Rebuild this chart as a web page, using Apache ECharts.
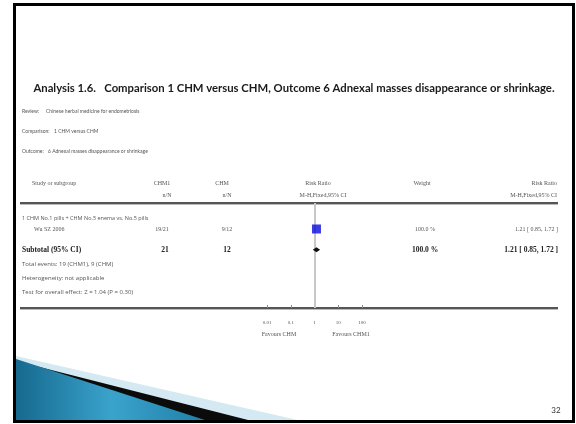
<!DOCTYPE html>
<html><head><meta charset="utf-8">
<style>html,body{margin:0;padding:0;background:#fff}#c{width:576px;height:424px}</style>
<script src="https://cdn.jsdelivr.net/npm/echarts@6/dist/echarts.min.js"></script>
</head><body><div id="c"></div>
<script>
// ---- data ----
const titleText = 'Analysis 1.6.   Comparison 1 CHM versus CHM, Outcome 6 Adnexal masses disappearance or shrinkage.';
const reviewText = 'Chinese herbal medicine for endometriosis';
const comparisonText = '1 CHM versus CHM';
const outcomeText = '6 Adnexal masses disappearance or shrinkage';
const groupName = '1 CHM No.1 pills + CHM No.5 enema vs. No.5 pills';
const studies = ['Wu SZ 2006'];
const events1 = [19];
const total1 = [21];
const events2 = [9];
const total2 = [12];
const ratios = [1.21];
const lower = [0.85];
const upper = [1.72];
const weights = [100.0];
const subtotal = {ratio: 1.21, lower: 0.85, upper: 1.72, total1: 21, total2: 12, weight: 100.0};
const footLines = ['Total events: 19 (CHM1), 9 (CHM)', 'Heterogeneity: not applicable', 'Test for overall effect: Z = 1.04 (P = 0.30)'];
const tickValues = [0.01, 0.1, 1, 10, 100];
const tickLabels = ['0.01', '0.1', '1', '10', '100'];
const favours = ['Favours CHM', 'Favours CHM1'];
const slideNumber = '32';

// rows on the y axis (index)
const studyRows = [1];
const subtotalRow = 3;

const fmt = v => v.toFixed(2);
const ciText = (r, l, u) => fmt(r) + ' [ ' + fmt(l) + ', ' + fmt(u) + ' ]';

const chart = echarts.init(document.getElementById('c'), null, {renderer: 'canvas'});

const serif = '"Liberation Serif", "DejaVu Serif", serif';
const sans = 'Lato, "Open Sans", sans-serif';
const wide = '"Open Sans", Lato, sans-serif';
const small = {fontFamily: serif, fontSize: 6, fill: '#555'};

function txt(x, y, text, extra) {
  return {type: 'text', x: x, y: y, silent: true,
    style: Object.assign({text: text, textVerticalAlign: 'middle'}, small, extra || {})};
}

const graphics = [];
// slide decoration
graphics.push({type: 'polygon', silent: true, z: 1, shape: {points: [[16, 356], [302, 421], [16, 421]]}, style: {fill: '#d5e9f2'}});
graphics.push({type: 'polygon', silent: true, z: 2, shape: {points: [[16, 361], [252, 421], [16, 421]]}, style: {fill: '#0b0b0b'}});
graphics.push({type: 'polygon', silent: true, z: 3, shape: {points: [[16, 359], [208, 421], [16, 421]]},
  style: {fill: new echarts.graphic.LinearGradient(0, 0, 1, 0, [
    {offset: 0, color: '#16698f'}, {offset: 0.5, color: '#3aa3cc'}, {offset: 1, color: '#1f7fa8'}])}});
graphics.push({type: 'rect', silent: true, z: 10, shape: {x: 14.5, y: 4.5, width: 559, height: 417}, style: {fill: 'none', stroke: '#000', lineWidth: 3}});

// title block
graphics.push(txt(294, 88, titleText, {fontFamily: sans, fontSize: 11.3, fontWeight: 'bold', fill: '#1a1a1a', textAlign: 'center'}));
graphics.push(txt(22, 111, 'Review:', {fontFamily: sans, fontSize: 5}));
graphics.push(txt(46, 111, reviewText, {fontFamily: sans, fontSize: 5}));
graphics.push(txt(22, 131, 'Comparison:', {fontFamily: sans, fontSize: 5}));
graphics.push(txt(54, 131, comparisonText, {fontFamily: sans, fontSize: 5}));
graphics.push(txt(22, 151, 'Outcome:', {fontFamily: sans, fontSize: 5}));
graphics.push(txt(48, 151, outcomeText, {fontFamily: sans, fontSize: 5}));

// header
graphics.push(txt(32, 183, 'Study or subgroup'));
graphics.push(txt(162, 183, 'CHM1', {textAlign: 'center'}));
graphics.push(txt(167, 195, 'n/N', {textAlign: 'center'}));
graphics.push(txt(222, 183, 'CHM', {textAlign: 'center'}));
graphics.push(txt(227, 195, 'n/N', {textAlign: 'center'}));
graphics.push(txt(318, 183, 'Risk Ratio', {textAlign: 'center'}));
graphics.push(txt(323, 195, 'M-H,Fixed,95% CI', {textAlign: 'center'}));
graphics.push(txt(422, 183, 'Weight', {textAlign: 'center'}));
graphics.push(txt(557, 183, 'Risk Ratio', {textAlign: 'right'}));
graphics.push(txt(557, 195, 'M-H,Fixed,95% CI', {textAlign: 'right'}));

// rules
[203, 308].forEach(y => {
  graphics.push({type: 'line', silent: true, shape: {x1: 20, y1: y, x2: 558, y2: y}, style: {stroke: '#555', lineWidth: 2}});
  graphics.push({type: 'line', silent: true, shape: {x1: 20, y1: y + 1.5, x2: 558, y2: y + 1.5}, style: {stroke: '#bbb', lineWidth: 1}});
});

// footer texts
graphics.push(txt(22, 264, footLines[0], {fontFamily: wide, fontSize: 6}));
graphics.push(txt(22, 278, footLines[1], {fontFamily: wide, fontSize: 6}));
graphics.push(txt(22, 292, footLines[2], {fontFamily: wide, fontSize: 6}));
graphics.push(txt(279, 334, favours[0], {textAlign: 'center'}));
graphics.push(txt(351, 334, favours[1], {textAlign: 'center'}));
graphics.push(txt(556, 410, slideNumber, {fontFamily: sans, fontSize: 8, fill: '#333', textAlign: 'center'}));

const option = {
  animation: false,
  grid: {left: 267, right: 576 - 362, top: 203, bottom: 424 - 308},
  xAxis: {type: 'log', logBase: 10, min: tickValues[0], max: tickValues[tickValues.length - 1],
    axisLine: {show: false, onZero: false},
    axisTick: {show: true, inside: true, length: 3, lineStyle: {color: '#888'}},
    splitLine: {show: false},
    axisLabel: {show: true, margin: 12, fontSize: 5, fontFamily: serif, color: '#555',
      formatter: v => { const i = tickValues.findIndex(t => Math.abs(Math.log10(t) - Math.log10(v)) < 1e-6); return i >= 0 ? tickLabels[i] : ''; }}},
  yAxis: {type: 'value', inverse: true, min: -1.5, max: 8.6, show: false},
  graphic: graphics,
  series: [
    {type: 'line', data: [], z: 1,
      markLine: {silent: true, symbol: 'none', label: {show: false},
        lineStyle: {color: '#c8c8c8', width: 2, type: 'solid'}, data: [{xAxis: 1}]}},
    {type: 'scatter', symbol: 'rect', symbolSize: 9, z: 5,
      itemStyle: {color: '#0a0ae0'},
      data: ratios.map((r, i) => [r, studyRows[i]])},
    {type: 'custom', renderItem: (params, api) => {
        const l = api.coord([api.value(0), api.value(3)]);
        const c = api.coord([api.value(1), api.value(3)]);
        const u = api.coord([api.value(2), api.value(3)]);
        return {type: 'polygon', shape: {points: [[l[0], c[1]], [c[0], c[1] - 2.5], [u[0], c[1]], [c[0], c[1] + 2.5]]},
          style: {fill: '#111'}};
      }, data: [[subtotal.lower, subtotal.ratio, subtotal.upper, subtotalRow]], z: 5},
    // table text columns tied to rows
    {type: 'custom', renderItem: (params, api) => {
        const y = api.coord([1, api.value(0)])[1];
        const i = params.dataIndex;
        const isSub = api.value(1) === 1;
        const children = [];
        const base = {fontFamily: serif, fill: isSub ? '#222' : '#555', fontSize: isSub ? 7.5 : 6, fontWeight: isSub ? 'bold' : 'normal', textVerticalAlign: 'middle'};
        if (!isSub) {
          children.push({type: 'text', style: Object.assign({}, base, {x: 34, y: y, text: studies[i]})});
          children.push({type: 'text', style: Object.assign({}, base, {x: 162, y: y, text: events1[i] + '/' + total1[i], textAlign: 'center'})});
          children.push({type: 'text', style: Object.assign({}, base, {x: 227, y: y, text: events2[i] + '/' + total2[i], textAlign: 'center'})});
          children.push({type: 'text', style: Object.assign({}, base, {x: 425, y: y, text: weights[i].toFixed(1) + ' %', textAlign: 'center'})});
          children.push({type: 'text', style: Object.assign({}, base, {x: 558, y: y, text: ciText(ratios[i], lower[i], upper[i]), textAlign: 'right'})});
        } else {
          children.push({type: 'text', style: Object.assign({}, base, {x: 22, y: y, text: 'Subtotal (95% CI)'})});
          children.push({type: 'text', style: Object.assign({}, base, {x: 165, y: y, text: String(subtotal.total1), textAlign: 'center'})});
          children.push({type: 'text', style: Object.assign({}, base, {x: 227, y: y, text: String(subtotal.total2), textAlign: 'center'})});
          children.push({type: 'text', style: Object.assign({}, base, {x: 425, y: y, text: subtotal.weight.toFixed(1) + ' %', textAlign: 'center'})});
          children.push({type: 'text', style: Object.assign({}, base, {x: 558, y: y, text: ciText(subtotal.ratio, subtotal.lower, subtotal.upper), textAlign: 'right'})});
        }
        return {type: 'group', children: children};
      }, clip: false, data: studyRows.map(r => [r, 0]).concat([[subtotalRow, 1]])},
    {type: 'custom', renderItem: (params, api) => {
        const y = api.coord([1, api.value(0)])[1];
        return {type: 'text', style: {x: 22, y: y, text: groupName, fontFamily: wide, fontSize: 5.5, fill: '#555', textVerticalAlign: 'middle'}};
      }, clip: false, data: [[0]]}
  ]
};
chart.setOption(option);
</script></body></html>
